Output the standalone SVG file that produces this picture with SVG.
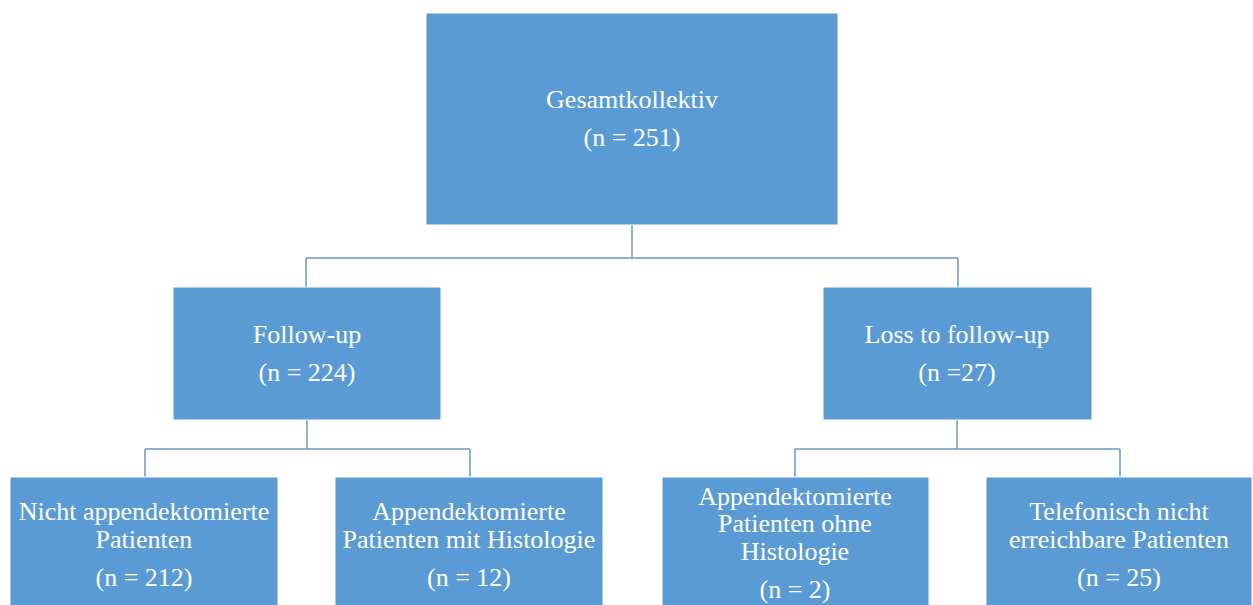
<svg xmlns="http://www.w3.org/2000/svg" width="1253" height="605" viewBox="0 0 1253 605">
<style>
.box{fill:#5B9BD5;stroke:#ffffff;stroke-width:1}
.t{font-family:"Liberation Serif","Times New Roman",serif;font-size:26px;fill:#ffffff;text-anchor:middle}
.c{fill:none;stroke:#6C97C6;stroke-width:1.5}
</style>
<rect width="1253" height="605" fill="#ffffff"/>
<g id="connectors">
<path class="c" d="M632,225 V258 M306,258 H958 M306,258 V287 M958,258 V287"/>
<path class="c" d="M307,420 V449 M145,449 H470 M145,449 V477 M470,449 V477"/>
<path class="c" d="M957,420 V449 M795,449 H1120 M795,449 V477 M1120,449 V477"/>
</g>
<g id="n-gesamt">
<rect class="box" x="426" y="13" width="412" height="212"/>
<text class="t" x="632" y="108">Gesamtkollektiv</text>
<text class="t" x="632" y="146">(n = 251)</text>
</g>
<g id="n-followup">
<rect class="box" x="173" y="287" width="268" height="133"/>
<text class="t" x="307" y="343">Follow-up</text>
<text class="t" x="307" y="381">(n = 224)</text>
</g>
<g id="n-loss">
<rect class="box" x="823" y="287" width="269" height="133"/>
<text class="t" x="957" y="343">Loss to follow-up</text>
<text class="t" x="957" y="381">(n =27)</text>
</g>
<g id="n-nicht">
<rect class="box" x="10" y="477" width="268" height="135"/>
<text class="t" x="144" y="520">Nicht appendektomierte</text>
<text class="t" x="144" y="548">Patienten</text>
<text class="t" x="144" y="586">(n = 212)</text>
</g>
<g id="n-mit">
<rect class="box" x="335" y="477" width="268" height="135"/>
<text class="t" x="469" y="520">Appendektomierte</text>
<text class="t" x="469" y="548">Patienten mit Histologie</text>
<text class="t" x="469" y="586">(n = 12)</text>
</g>
<g id="n-ohne">
<rect class="box" x="662" y="477" width="267" height="135"/>
<text class="t" x="795" y="505">Appendektomierte</text>
<text class="t" x="795" y="532">Patienten ohne</text>
<text class="t" x="795" y="560">Histologie</text>
<text class="t" x="795" y="598">(n = 2)</text>
</g>
<g id="n-tel">
<rect class="box" x="986" y="477" width="266" height="135"/>
<text class="t" x="1119" y="520">Telefonisch nicht</text>
<text class="t" x="1119" y="548">erreichbare Patienten</text>
<text class="t" x="1119" y="586">(n = 25)</text>
</g>
</svg>
